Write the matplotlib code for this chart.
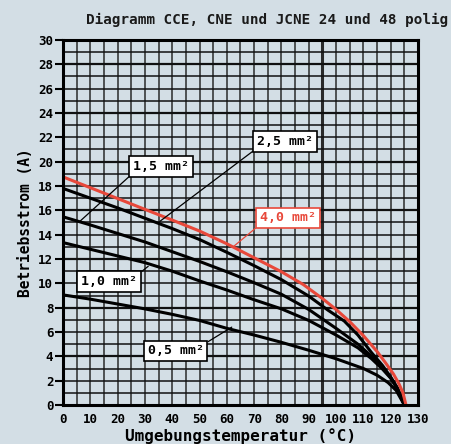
import matplotlib.pyplot as plt
import numpy as np

# Werte
t_40 = [0, 10, 20, 30, 40, 50, 60, 70, 80, 88, 95, 100, 105, 110, 115, 118, 121, 123, 124.5, 125.6]
i_40 = [18.75, 17.86, 16.97, 16.08, 15.2, 14.3, 13.25, 12.1, 10.95, 9.9, 8.75, 7.85, 6.85, 5.7, 4.4, 3.5, 2.55, 1.75, 1.0, 0]

t_25 = [0, 10, 20, 30, 40, 50, 60, 70, 80, 90, 97, 103, 108, 113, 117, 120, 122.5, 125]
i_25 = [17.8, 17.0, 16.2, 15.35, 14.5, 13.6, 12.55, 11.45, 10.3, 8.95, 7.8, 6.9, 5.75, 4.3, 3.25, 2.3, 1.4, 0]

t_15 = [0, 10, 20, 30, 40, 50, 60, 70, 80, 90, 100, 108, 113, 117, 120, 122.5, 125]
i_15 = [15.47, 14.8, 14.1, 13.4, 12.6, 11.8, 10.95, 10.05, 9.1, 7.85, 6.3, 5.0, 4.0, 3.05, 2.25, 1.35, 0]

t_10 = [0, 10, 20, 30, 40, 50, 60, 70, 80, 90, 100, 108, 113, 117, 120, 122.5, 125]
i_10 = [13.35, 12.8, 12.25, 11.7, 11.0, 10.2, 9.45, 8.65, 7.9, 6.95, 5.75, 4.7, 3.8, 2.95, 2.2, 1.3, 0]

t_05 = [0, 10, 20, 30, 40, 50, 60, 70, 80, 90, 95, 100, 105, 110, 115, 119, 122, 125]
i_05 = [9.05, 8.7, 8.3, 7.9, 7.45, 6.95, 6.3, 5.75, 5.15, 4.5, 4.15, 3.8, 3.4, 3.0, 2.45, 1.85, 1.2, 0]

x_ticks = np.arange(0, 131, 10)
y_ticks = np.arange(0, 31, 2)

bg = '#d3dee5'
red = '#e8483a'
plt.rcParams['font.family'] = 'DejaVu Sans Mono'
plt.rcParams['font.weight'] = 'bold'

fig = plt.figure(figsize=(4.52, 4.44), dpi=100, facecolor=bg)
ax = fig.add_axes([63/452, 39/444, 355/452, 365/444], facecolor=bg)

# Raster
for gx in np.arange(5, 130, 5):
    lw = 2.2 if gx == 95 else 1.1
    ax.axvline(gx, color='#2a2a2a', lw=lw, zorder=1)
for gy in np.arange(1, 30, 1):
    lw = 1.6 if gy % 4 == 0 else 1.1
    ax.axhline(gy, color='#111111', lw=lw, zorder=1)

ax.plot(t_05, i_05, color='black', lw=2.2, zorder=3)
ax.plot(t_10, i_10, color='black', lw=2.2, zorder=3)
ax.plot(t_15, i_15, color='black', lw=2.2, zorder=3)
ax.plot(t_25, i_25, color='black', lw=2.2, zorder=3)
ax.plot(t_40, i_40, color=red, lw=2.2, zorder=4)

def label(txt, xy, xytext, rel, col='black'):
    ax.annotate(txt, xy=xy, xytext=xytext, ha='center', va='center',
                fontsize=9.5, fontweight='bold', color=col, zorder=5,
                bbox=dict(boxstyle='square,pad=0.3', fc='white', ec=col, lw=1.2),
                arrowprops=dict(arrowstyle='-', color=col, lw=0.9, relpos=rel,
                                shrinkA=0, shrinkB=0))

label('2,5 mm²', (35.5, 15.1), (81.3, 21.65), (0, 0))
label('1,5 mm²', (6.2, 15.1), (35.9, 19.6), (0, 0))
label('4,0 mm²', (62.3, 13.0), (82.4, 15.37), (0, 0), red)
label('1,0 mm²', (31.2, 11.4), (17.0, 10.16), (1, 1))
label('0,5 mm²', (61.8, 6.4), (41.2, 4.44), (1, 1))

ax.set_xlim(0, 130)
ax.set_ylim(0, 30)
ax.set_xticks(x_ticks)
ax.set_yticks(y_ticks)
ax.tick_params(axis='x', length=0, pad=6, labelsize=9)
ax.tick_params(axis='y', length=6, width=1.5, pad=1, labelsize=9)
for s in ax.spines.values():
    s.set_linewidth(2.2)
    s.set_zorder(6)

ax.set_xlabel('Umgebungstemperatur (°C)', fontsize=11.5, fontweight='bold', labelpad=1)
ax.set_ylabel('Betriebsstrom (A)', fontsize=10.5, fontweight='bold', labelpad=4)
fig.text(448/452, 1 - 20/444, 'Diagramm CCE, CNE und JCNE 24 und 48 polig',
         ha='right', va='center', fontsize=10.3, fontweight='bold', color='#1a1a1a')

fig.savefig('out.png', dpi=100, facecolor=bg)
